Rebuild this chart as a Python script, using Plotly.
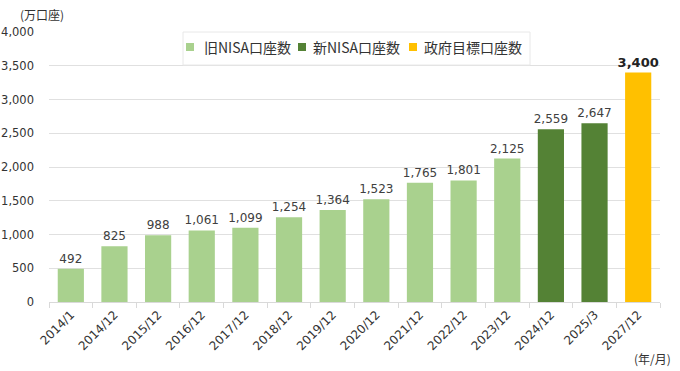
import plotly.graph_objects as go

categories = ["2014/1", "2014/12", "2015/12", "2016/12", "2017/12", "2018/12", "2019/12",
              "2020/12", "2021/12", "2022/12", "2023/12", "2024/12", "2025/3", "2027/12"]
old_nisa = [492, 825, 988, 1061, 1099, 1254, 1364, 1523, 1765, 1801, 2125, None, None, None]
new_nisa = [None] * 11 + [2559, 2647, None]
target = [None] * 13 + [3400]
yticks = [0, 500, 1000, 1500, 2000, 2500, 3000, 3500, 4000]
series_names = ["旧NISA口座数", "新NISA口座数", "政府目標口座数"]
series_colors = ["#A9D18E", "#548235", "#FFC000"]

FONT = "DejaVu Sans, Noto Sans CJK JP, sans-serif"
CJK = "Noto Sans CJK JP, DejaVu Sans, sans-serif"

W, H = 680, 371
PL, PR, PT, PB = 49, 660, 32, 302  # plot area in page pixels
ML, MR, MT, MB = PL, W - PR, PT, H - PB
PW, PH = PR - PL, PB - PT

def px(x):
    return (x - PL) / PW

def py(y):
    return (PB - y) / PH

def labels(vals, bold=False):
    out = []
    for v in vals:
        if v is None:
            out.append("")
        else:
            s = f"{v:,}"
            out.append(f"<b>{s}</b>" if bold else s)
    return out

fig = go.Figure()
for vals, name, color, bold in zip([old_nisa, new_nisa, target], series_names, series_colors,
                                   [False, False, True]):
    fig.add_trace(go.Bar(x=categories, y=vals, name=name, marker_color=color,
                         marker_line_width=0, width=0.6,
                         text=labels(vals, bold), textposition="outside",
                         constraintext="none", cliponaxis=False,
                         textfont=dict(size=13 if bold else 12,
                                       color="#222222" if bold else "#404040"),
                         showlegend=False))

# legend box drawn manually to match compact reference layout
shapes = [dict(type="rect", xref="paper", yref="paper",
               x0=px(183), x1=px(530), y0=py(65), y1=py(32),
               fillcolor="white", line=dict(color="#E8E8E8", width=1), layer="above")]
annotations = []
sq_x = [190, 302, 413]
tx_x = [202, 311, 422]
ly = 47
for name, color, sx, tx in zip(series_names, series_colors, sq_x, tx_x):
    shapes.append(dict(type="rect", xref="paper", yref="paper",
                       x0=px(sx - 4), x1=px(sx + 4), y0=py(ly + 4), y1=py(ly - 4),
                       fillcolor=color, line=dict(width=0), layer="above"))
    annotations.append(dict(text=name, xref="paper", yref="paper", x=px(tx), y=py(ly),
                            xanchor="left", yanchor="middle", showarrow=False,
                            font=dict(family=CJK, size=14, color="#333333")))

annotations += [
    dict(text="(万口座)", xref="paper", yref="paper", x=px(18), y=py(14),
         xanchor="left", yanchor="middle", showarrow=False,
         font=dict(family=CJK, size=12, color="#333333")),
    dict(text="(年/月)", xref="paper", yref="paper", x=px(673), y=py(358),
         xanchor="right", yanchor="middle", showarrow=False,
         font=dict(family=CJK, size=12, color="#333333")),
]

fig.update_layout(
    width=W, height=H,
    margin=dict(l=ML, r=MR, t=MT, b=MB),
    barmode="overlay",
    plot_bgcolor="white", paper_bgcolor="white",
    font=dict(family=FONT, size=12, color="#333333"),
    showlegend=False,
    shapes=shapes,
    annotations=annotations,
    xaxis=dict(type="category", tickangle=-45, showgrid=False, automargin=False,
               showline=True, linecolor="#D9D9D9", linewidth=1,
               ticks="outside", tickson="boundaries", ticklen=5, tickcolor="#D9D9D9",
               tickfont=dict(size=12, color="#333333")),
    yaxis=dict(range=[0, 4000], tickvals=yticks, tickformat=",", showgrid=True,
               automargin=False,
               gridcolor="#E0E0E0", gridwidth=1, zeroline=False, showline=False,
               ticks="", ticklabelstandoff=14, tickfont=dict(size=11.5, color="#333333")),
)

fig.write_html("out.html", config={"displayModeBar": False},
               post_script="document.body.style.margin='0px';")
